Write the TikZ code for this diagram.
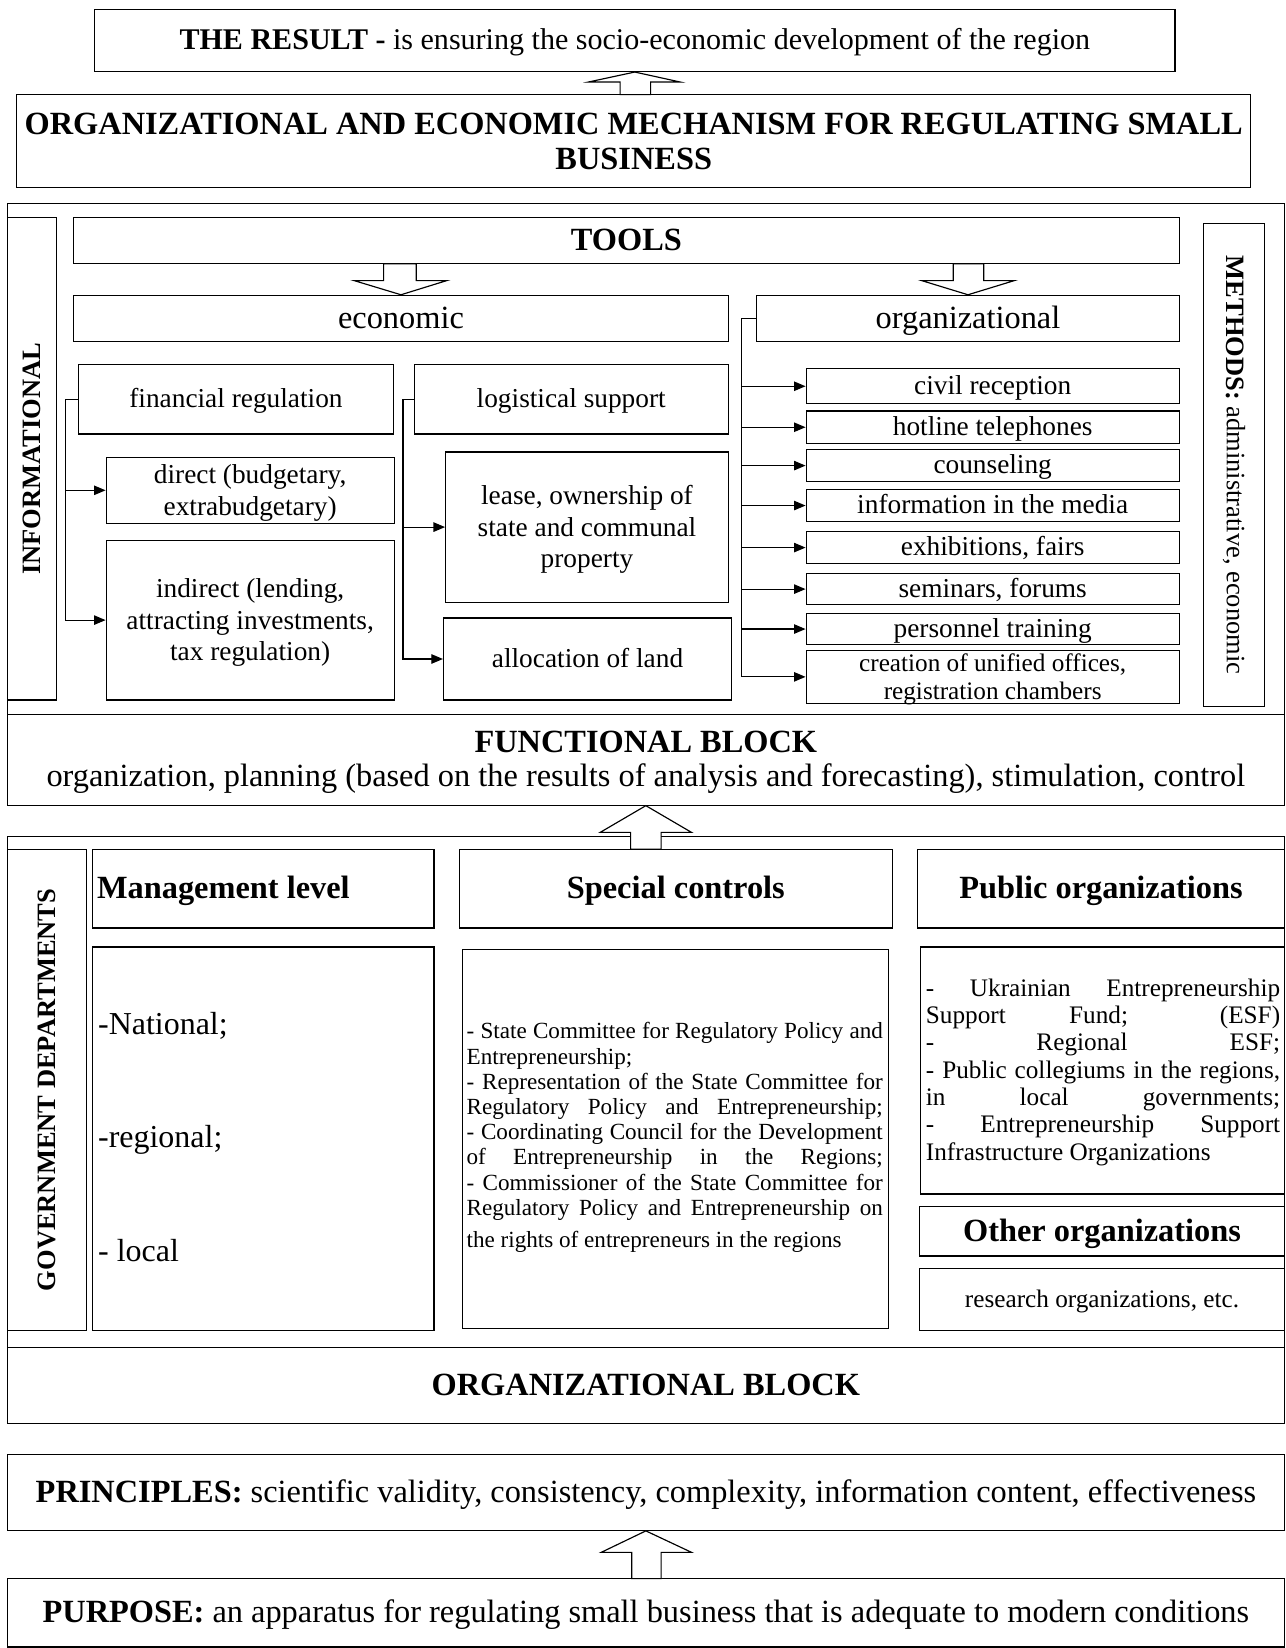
\documentclass[tikz,border=0pt]{standalone}
\usepackage{fontspec}
\setmainfont{Liberation Serif}
\usetikzlibrary{arrows.meta}
\newcommand\fBody{\fontsize{13}{15}\selectfont}
\newcommand\fHead{\fontsize{15.4}{17}\selectfont}
\newcommand\fVert{\fontsize{12.6}{14}\selectfont}
\newcommand\fSpec{\fontsize{11}{12}\selectfont}
\newcommand\fPub{\fontsize{12}{13}\selectfont}
\newcommand\jline[1]{\hbox to \hsize{#1}}
\newcommand\lline[1]{\hbox to \hsize{#1\hfil}}
% multi-line box: \rbox[text options]{name}{x1}{y1}{x2}{y2}{text}
\newcommand\rbox[7][]{\node[bx,minimum width={(#5-#3)*0.5pt},minimum height={(#6-#4)*0.5pt}] (#2) at ({(#3+#5)/2},{(#4+#6)/2}) {};
  \node[tx,#1] (#2-t) at (#2.center) {#7};}
% single-line box: \lbox[text options]{name}{x1}{y1}{x2}{y2}{font size}{text}
\newcommand\lbox[8][]{\node[bx,minimum width={(#5-#3)*0.5pt},minimum height={(#6-#4)*0.5pt}] (#2) at ({(#3+#5)/2},{(#4+#6)/2}) {};
  \node[inner sep=0pt, anchor=base, font=\fontsize{#7}{#7}\selectfont, #1] (#2-t) at ({(#3+#5)/2},{(#4+#6)/2+0.675*#7-1}) {#8};}
\tikzset{
  bx/.style={draw, line width=0.55pt, inner sep=0pt},
  tx/.style={inner sep=0pt, align=center, font=\fBody, yshift=-1.2pt},
  arr/.style={line width=0.55pt, -{Triangle[length=5.5pt,width=4.5pt]}},
  hollow/.style={draw, line width=0.55pt, fill=white, line join=miter},
}
\begin{document}
\begin{tikzpicture}[x=0.5pt,y=-0.5pt]
\useasboundingbox (0,0) rectangle (1223,1568);
% top
\lbox{res}{90}{9}{1118}{68}{14.3}{\textbf{THE RESULT -} is ensuring the socio-economic development of the region}
\rbox[font=\fHead\bfseries, yshift=0.9pt]{mech}{16}{90}{1190}{178}{ORGANIZATIONAL AND ECONOMIC MECHANISM FOR REGULATING SMALL\\[0pt]BUSINESS}
\draw[hollow] (res.south) -- (647,78) -- (619,78) -- (619,90) -- (590,90) -- (590,78) -- (560,78) -- cycle;
% middle frame
\node[bx, minimum width=607.5pt, minimum height=243pt] (midframe) at (614.5,437) {};
\node[bx, minimum width=23.5pt, minimum height=229.5pt] (info) at (30.5,436.5) {};
\node[rotate=90, font=\fVert\bfseries, inner sep=0pt] (infot) at (info.center) {INFORMATIONAL};
\lbox{tools}{70}{207}{1122}{251}{15.4}{\textbf{TOOLS}}
\lbox{econ}{70}{281}{693}{325}{15.4}{economic}
\lbox{org}{720}{281}{1122}{325}{15.4}{organizational}
\node[bx, minimum width=29pt, minimum height=229.5pt] (methods) at (1174,442.5) {};
\node[rotate=-90, font=\fVert, inner sep=0pt] (methodst) at (methods.center) {\textbf{METHODS:} administrative, economic};
\draw[hollow] (econ.north) -- (425,267) -- (396,267) -- (396,251) -- (365,251) -- (365,267) -- (337,267) -- cycle;
\draw[hollow] (org.north -| 921,0) -- (965,267) -- (936,267) -- (936,251) -- (907,251) -- (907,267) -- (877,267) -- cycle;
% economic tools
\lbox{fin}{75}{347}{374}{413}{13}{financial regulation}
\rbox{direct}{101}{435}{375}{498}{direct (budgetary,\\extrabudgetary)}
\rbox{indirect}{101}{514}{375}{666}{indirect (lending,\\attracting investments,\\tax regulation)}
\lbox{logi}{394}{347}{693}{413}{13}{logistical support}
\rbox{lease}{424}{430}{693}{573}{lease, ownership of\\state and communal\\property}
\lbox{alloc}{422}{588}{696}{666}{13}{allocation of land}
\draw[arr] (fin.west) -- ++(-12,0) |- (direct.west);
\draw[arr] (fin.west) -- ++(-12,0) |- (indirect.west);
\draw[arr] (logi.west) -- ++(-10,0) |- (lease.west);
\draw[arr] (logi.west) -- ++(-10,0) |- (alloc.west);
% organizational tools
\lbox{o1}{767}{351}{1122}{384}{13}{civil reception}
\lbox{o2}{767}{391}{1122}{422}{13}{hotline telephones}
\lbox{o3}{767}{428}{1122}{458}{13}{counseling}
\lbox{o4}{767}{466}{1122}{496}{13}{information in the media}
\lbox{o5}{767}{506}{1122}{536}{13}{exhibitions, fairs}
\lbox{o6}{767}{546}{1122}{575}{13}{seminars, forums}
\lbox{o7}{767}{584}{1122}{613}{13}{personnel training}
\rbox[font=\fontsize{12}{13.5}\selectfont]{o8}{767}{619}{1122}{669}{creation of unified offices,\\registration chambers}
\foreach \i in {1,...,8}{\draw[arr] (org.west) -- ++(-14,0) |- (o\i.west);}
% functional block
\rbox[font=\fHead]{func}{7}{680}{1222}{766}{\textbf{FUNCTIONAL BLOCK}\\[-0.5pt]organization, planning (based on the results of analysis and forecasting), stimulation, control}
% lower frame
\node[bx, minimum width=607.5pt, minimum height=279pt] (lowframe) at (614.5,1075) {};
\node[bx, minimum width=37.5pt, minimum height=229pt] (gov) at (44.5,1037) {};
\node[rotate=90, font=\fVert\bfseries, inner sep=0pt] (govt) at (gov.center) {GOVERNMENT DEPARTMENTS};
\node[bx, minimum width=162.5pt, minimum height=37.5pt] (mgmt) at (250.5,845.5) {};
\node[anchor=base west, font=\fHead\bfseries, inner sep=0pt] (mgmtt) at (92,855) {Management level};
\node[bx, minimum width=162.5pt, minimum height=182.5pt] (mgmtlist) at (250.5,1083.5) {};
\node[anchor=base west, font=\fontsize{15.2}{17}\selectfont, inner sep=0pt] (l1) at (93,984) {-National;};
\node[anchor=base west, font=\fontsize{15.2}{17}\selectfont, inner sep=0pt] (l2) at (93,1092) {-regional;};
\node[anchor=base west, font=\fontsize{15.2}{17}\selectfont, inner sep=0pt] (l3) at (93,1200) {- local};
\lbox{spec}{437}{808}{849}{883}{15.4}{\textbf{Special controls}}
\node[bx, minimum width=202.5pt, minimum height=180.5pt] (speclistbox) at (642.5,1083.5) {};
\node[inner sep=0pt, font=\fSpec] (speclist) at (642,1082.5) {\vbox{\hsize=198pt
\jline{- State Committee for Regulatory Policy and}
\lline{Entrepreneurship;}
\jline{- Representation of the State Committee for}
\jline{Regulatory Policy and Entrepreneurship;}
\jline{- Coordinating Council for the Development}
\jline{of Entrepreneurship in the Regions;}
\jline{- Commissioner of the State Committee for}
\jline{Regulatory Policy and Entrepreneurship on}
\vskip3.5pt
\lline{the rights of entrepreneurs in the regions}}};
\lbox{pub}{873}{808}{1222}{883}{15.4}{\textbf{Public organizations}}
\node[bx, minimum width=173pt, minimum height=117.5pt] (publist) at (1049,1018.5) {};
\node[inner sep=0pt, font=\fPub] (publ) at (1049.5,1020) {\vbox{\hsize=168.5pt
\jline{- Ukrainian Entrepreneurship}
\jline{Support Fund; (ESF)}
\jline{- Regional ESF;}
\jline{- Public collegiums in the regions,}
\jline{in local governments;}
\jline{- Entrepreneurship Support}
\lline{Infrastructure Organizations}}};
\lbox{other}{875}{1148}{1222}{1195}{15.4}{\textbf{Other organizations}}
\lbox{research}{875}{1207}{1222}{1266}{12}{research organizations, etc.}
\draw[hollow] (func.south) -- (658,792) -- (629,792) -- (629,808) -- (600,808) -- (600,792) -- (571,792) -- cycle;
% bottom
\lbox{orgblock}{7}{1282}{1222}{1354}{15.4}{\textbf{ORGANIZATIONAL BLOCK}}
\lbox{princ}{7}{1384}{1222}{1456}{15.4}{\textbf{PRINCIPLES:} scientific validity, consistency, complexity, information content, effectiveness}
\lbox{purp}{7}{1502}{1222}{1567}{15.4}{\textbf{PURPOSE:} an apparatus for regulating small business that is adequate to modern conditions}
\draw[hollow] (princ.south) -- (658,1477) -- (629,1477) -- (629,1502) -- (601,1502) -- (601,1477) -- (572,1477) -- cycle;
\end{tikzpicture}
\end{document}
